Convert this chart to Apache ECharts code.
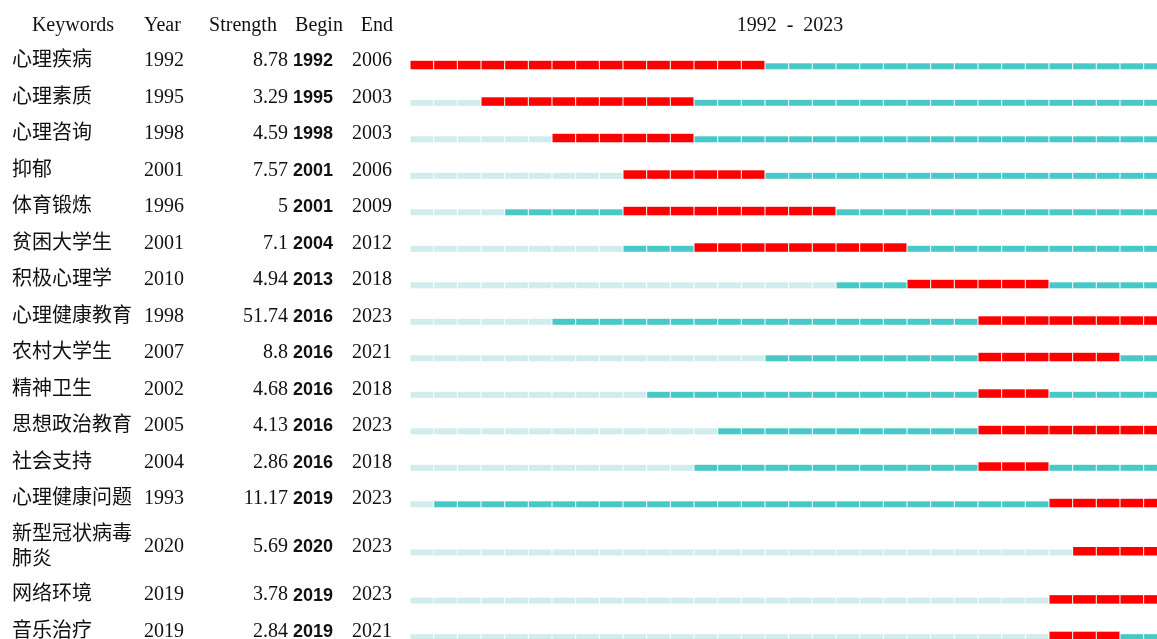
<!DOCTYPE html>
<html><head><meta charset="utf-8">
<script src="https://cdn.jsdelivr.net/npm/echarts@6/dist/echarts.min.js"></script>
<style>html,body{margin:0;padding:0;background:#fff;overflow:hidden}#c{width:1157px;height:639px}</style>
</head><body><div id="c"></div>
<script>
const keywords = ['心理疾病','心理素质','心理咨询','抑郁','体育锻炼','贫困大学生','积极心理学','心理健康教育','农村大学生','精神卫生','思想政治教育','社会支持','心理健康问题','新型冠状病毒\n肺炎','网络环境','音乐治疗'];
const firstYear = [1992,1995,1998,2001,1996,2001,2010,1998,2007,2002,2005,2004,1993,2020,2019,2019];
const strength = ['8.78','3.29','4.59','7.57','5','7.1','4.94','51.74','8.8','4.68','4.13','2.86','11.17','5.69','3.78','2.84'];
const beginYear = [1992,1995,1998,2001,2001,2004,2013,2016,2016,2016,2016,2016,2019,2020,2019,2019];
const endYear = [2006,2003,2003,2006,2009,2012,2018,2023,2021,2018,2023,2018,2023,2023,2023,2021];
const startYear = 1992, lastYear = 2023;
const headers = ['Keywords','Year','Strength','Begin','End'];

const COLORS = ['#d0ecec','#48c9c8','#ff0000'];
const FONT = '20px "Liberation Serif", "Noto Sans CJK SC", serif';
const BOLD = 'bold 18px "Liberation Sans", sans-serif';
const UNIT = 36.5;

// row layout (in row units); wrapped labels take extra room
let cum = 0;
const rowCenter = keywords.map(k => {
  const lines = k.split('\n').length;
  const h = 1 + 0.64 * (lines - 1);
  const c = cum + h / 2;
  cum += h;
  return c;
});
const totalUnits = cum;

const segData = [];
keywords.forEach((k, r) => {
  for (let y = startYear; y <= lastYear; y++) {
    let kind = 0;
    if (y >= beginYear[r] && y <= endYear[r]) kind = 2;
    else if (y >= firstYear[r]) kind = 1;
    segData.push([y, rowCenter[r], kind]);
  }
});
const rowData = keywords.map((k, r) => [startYear, rowCenter[r], r]);

function txt(x, y, text, font, align) {
  return {
    type: 'text', x: x, y: y,
    style: { text: text, font: font, fill: '#111', align: align, verticalAlign: 'middle',
             textAlign: align, textVerticalAlign: 'middle', lineHeight: 25 }
  };
}
function head(x, text, align) {
  return { type: 'text', x: x, y: 25.5, style: { text: text, font: FONT, fill: '#111', align: align, verticalAlign: 'middle' } };
}

const chart = echarts.init(document.getElementById('c'), null, { renderer: 'canvas' });
chart.setOption({
  animation: false,
  backgroundColor: '#fff',
  grid: { left: 410, top: 65.3 - 0.5 * UNIT, width: 757.3, height: UNIT * totalUnits, outerBoundsMode: 'none', containLabel: false },
  xAxis: { type: 'value', min: startYear, max: lastYear + 1, show: false },
  yAxis: { type: 'value', inverse: true, min: 0, max: totalUnits, show: false },
  graphic: [
    head(73, headers[0], 'center'),
    head(144, headers[1], 'left'),
    head(243, headers[2], 'center'),
    head(319, headers[3], 'center'),
    head(393, headers[4], 'right'),
    head(790, startYear + '  -  ' + lastYear, 'center')
  ],
  series: [
    {
      type: 'custom', clip: false, data: segData,
      renderItem: function (params, api) {
        const p0 = api.coord([api.value(0), api.value(1)]);
        const p1 = api.coord([api.value(0) + 1, api.value(1)]);
        const kind = api.value(2);
        const Y = p0[1];
        const top = kind === 2 ? Y - 4.5 : Y - 2;
        return {
          type: 'rect',
          shape: { x: p0[0] + 0.5, y: top, width: p1[0] - p0[0] - 1, height: Y + 4 - top },
          style: { fill: COLORS[kind] }
        };
      }
    },
    {
      type: 'custom', clip: false, data: rowData,
      renderItem: function (params, api) {
        const r = api.value(2);
        const p = api.coord([api.value(0), api.value(1)]);
        const ty = p[1] - 4.5;
        return {
          type: 'group',
          children: [
            txt(12, ty, keywords[r], FONT, 'left'),
            txt(144, ty, String(firstYear[r]), FONT, 'left'),
            txt(288, ty, strength[r], FONT, 'right'),
            txt(293, ty + 0.5, String(beginYear[r]), BOLD, 'left'),
            txt(352, ty, String(endYear[r]), FONT, 'left')
          ]
        };
      }
    }
  ]
});
</script>
</body></html>
